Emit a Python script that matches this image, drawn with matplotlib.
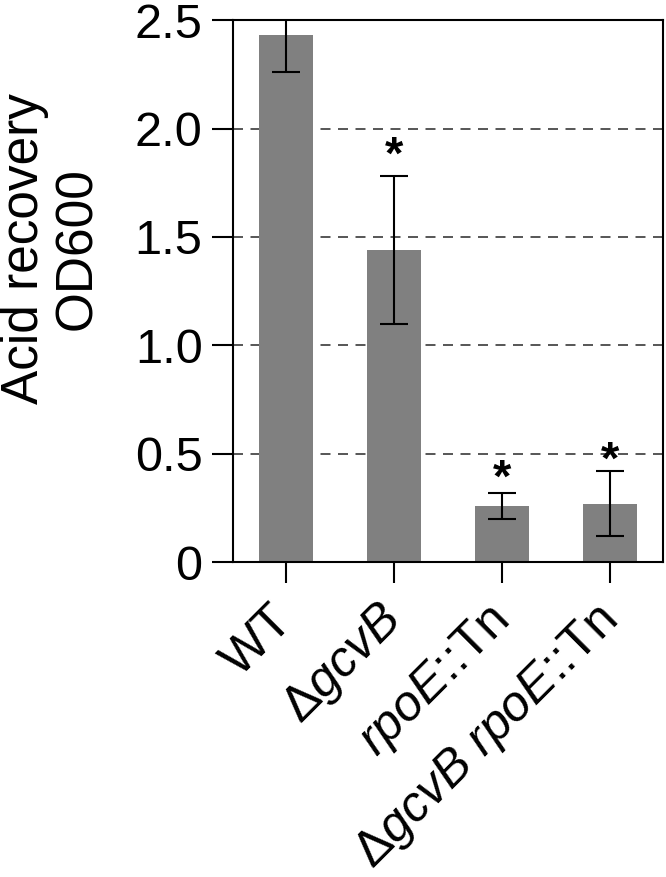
import matplotlib
matplotlib.use("Agg")
import matplotlib.pyplot as plt

# data
strains = ["WT", r"$\Delta\mathit{gcvB}$", r"$\mathit{rpoE}$::Tn",
           r"$\Delta\mathit{gcvB}$ $\mathit{rpoE}$::Tn"]
od600 = [2.43, 1.44, 0.26, 0.27]
err = [0.17, 0.34, 0.06, 0.15]
star_y = [None, 1.87, 0.38, 0.465]  # where the significance asterisks sit
yticks = [0, 0.5, 1.0, 1.5, 2.0, 2.5]
ytick_labels = ["0", "0.5", "1.0", "1.5", "2.0", "2.5"]

plt.rcParams["font.family"] = ["Liberation Sans", "DejaVu Sans"]
plt.rcParams["mathtext.fontset"] = "custom"
plt.rcParams["mathtext.rm"] = "Liberation Sans"
plt.rcParams["mathtext.it"] = "Liberation Sans:italic"

fig = plt.figure(figsize=(6.66, 8.77), dpi=100)
ax = fig.add_axes([0.350, 0.359, 0.6455, 0.618])

x = list(range(len(strains)))
ax.bar(x, od600, width=0.5, color="#808080", zorder=2)
ax.errorbar(x, od600, yerr=err, fmt="none", ecolor="black", elinewidth=1.5,
            capsize=10, capthick=1.5, zorder=3)

# asterisks above the error bars
for i in x:
    if star_y[i] is not None:
        ax.text(i, star_y[i], "*", ha="center", va="center",
                fontsize=34, fontweight="bold")

# dashed gridlines
for yv in yticks[1:-1]:
    ax.axhline(yv, color="#3a3a3a", linestyle=(0, (6, 4.5)), linewidth=1.2, zorder=1)

ax.set_xlim(-0.49, 3.49)
ax.set_ylim(0, 2.5)
ax.set_yticks(yticks)
ax.set_yticklabels(ytick_labels, fontsize=35)
ax.set_xticks(x)
ax.set_xticklabels(strains, fontsize=36, rotation=45, ha="right",
                   va="center", rotation_mode="anchor")
ax.tick_params(axis="y", length=15, width=1.5, pad=7)
ax.tick_params(axis="x", length=15, width=1.5, pad=22)
for s in ax.spines.values():
    s.set_linewidth(1.5)

ax.set_ylabel("Acid recovery\nOD600", fontsize=37, linespacing=1.1)
ax.yaxis.set_label_coords(-0.305, 0.579)

fig.savefig("out.png", dpi=100)
